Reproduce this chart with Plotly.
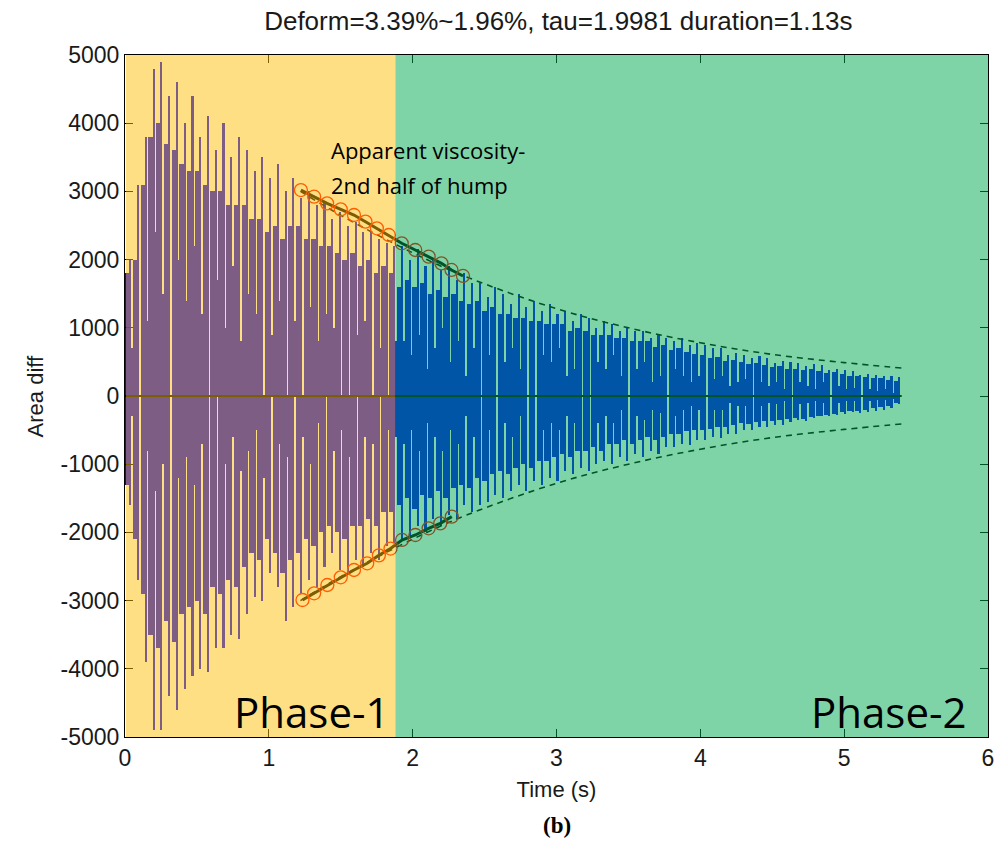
import numpy as np
import plotly.graph_objects as go

# ---- labels -------------------------------------------------------------
title_text = "Deform=3.39%~1.96%, tau=1.9981 duration=1.13s"
x_ticks = [0, 1, 2, 3, 4, 5, 6]
y_ticks = [-5000, -4000, -3000, -2000, -1000, 0, 1000, 2000, 3000, 4000, 5000]
y_tick_text = ["-5000", "-4000", "-3000", "-2000", "-1000", "0",
               "1000", "2000", "3000", "4000", "5000"]

# ---- oscillation record (amplitudes in hundreds, one entry per 0.054 s block) ----
block_dt = 0.054
unit = 100.0

# upper side: spike tips, block tops, slit depths
up_tip = [20, 31, 38, 48, 49, 44, 46, 40, 44, 38, 41, 36, 40, 35, 38, 36, 33, 35, 32, 34,
          30, 32, 29, 30, 28, 28.5, 26, 27, 25, 25.5, 24, 24, 23, 22.5, 22,
          22, 20, 21.5, 19, 20, 18.5, 19, 17, 18, 16.5, 16.5, 14.5, 16, 15, 13.5,
          15, 13, 14, 12.5, 13.5, 12, 12.5, 11, 12, 11.5, 10, 11, 10.5, 9.5, 10,
          9.5, 9.5, 8.5, 9, 8.5, 8, 8.5, 7.5, 7.7, 7.5, 7, 7, 6, 6.3, 6,
          5.5, 5.8, 5.5, 4.8, 5.2, 5, 4.9, 4.4, 4.7, 4.5, 3.8, 4, 3.8, 3.6, 3.1,
          3.2, 3.1, 2.9, 3, 2.8]
up_top = [18, 20, 31, 38, 40, 37, 36, 34, 33, 33, 31, 30, 30, 28, 28, 28, 26, 26, 24, 25,
          23, 25, 25, 23, 23, 22, 22, 21, 20, 21, 19, 20, 18, 19, 18,
          16, 17, 16, 16.5, 15, 15.5, 14.5, 15, 14, 13.5, 14, 12.5, 13, 12, 12,
          11.5, 11.5, 11, 11, 10.5, 10.5, 10.5, 9.5, 10, 9.5, 9, 9, 9, 8.5, 8.5,
          8, 8, 8, 7.2, 7.5, 6.8, 7, 6.5, 6.2, 6, 5.6, 5.7, 5.2, 5.3, 5,
          4.7, 4.8, 4.5, 4.2, 4.4, 4, 4, 3.8, 3.9, 3.6, 3.4, 3.5, 3.2, 3, 3,
          2.8, 2.7, 2.6, 2.4, 2.2]
up_cut = [7, 0, 11, 24, 15, 0, 20, 14, 22, 12, 0, 17, 10, 19, 8, 15, 12, 0, 9, 14,
          0, 11, 0, 13, 8, 12, 10, 0, 0, 9, 11, 0, 7, 0, 8,
          8, 6, 9, 4, 7, 10, 5, 8, 3, 7, 0, 6, 0, 5, 7,
          4, 0, 0, 6, 5, 7, 3, 4, 0, 0, 5, 4, 6, 3, 0,
          4, 5, 2, 3, 0, 4, 3, 2, 3, 0, 2.5, 3, 1.5, 2, 2.5,
          0, 2, 1.5, 2, 1, 0, 2, 1.5, 1, 2, 0, 1.5, 1, 1.2, 0,
          1, 0.8, 1, 0.5, 0]

# lower side (magnitudes below zero)
dn_tip = [16, 27, 39, 49, 49, 44, 46, 43, 41, 40, 40.5, 37, 37, 35, 35.6, 32, 29.5, 30, 26, 28,
          33, 31, 29, 27, 28, 25, 23, 25.5, 26, 24, 25, 23, 24, 22, 21.5,
          21, 20.5, 19, 20, 18, 19, 17.5, 18, 16, 17, 16, 15.5, 14.5, 15, 14,
          13, 14, 12.5, 13, 12, 12.5, 11, 11.5, 10.5, 11, 10, 9.5, 10, 9, 9.5,
          8.5, 9, 8, 8.5, 7.5, 7.5, 7, 7.2, 6.5, 6.5, 6, 6.2, 5.5, 5.5, 5,
          5, 4.6, 4.5, 4.2, 4.3, 3.8, 3.5, 3.6, 3.2, 3, 2.9, 2.8, 2.6, 2.4, 2.5,
          2.3, 2.2, 2, 1.8, 1.2]
dn_top = [13, 21, 29, 35, 37, 33, 36, 32, 31, 30, 32, 28, 29, 27, 28, 25, 23, 24, 21, 23,
          26, 24, 23, 21, 22, 20, 19, 20, 21, 19, 19, 18, 19, 17, 17,
          16, 15, 16.5, 14.5, 15, 14, 15, 13.5, 13, 13.5, 12, 12.5, 11.5, 11, 11.5,
          10.5, 10, 10.5, 9.5, 9.5, 9, 8.5, 9, 8, 8, 7.5, 8, 7, 7, 6.5,
          7, 6.5, 6, 6.5, 6, 5.5, 5.6, 5.2, 5, 5, 4.8, 4.5, 4.6, 4.2, 4,
          4.1, 3.8, 3.7, 3.6, 3.5, 3.4, 3.2, 3.3, 3.1, 2.9, 2.8, 2.6, 2.4, 2.2, 2.2,
          2, 1.8, 1.6, 1.4, 1]
dn_cut = [3, 0, 8, 14, 10, 0, 12, 9, 13, 7, 0, 0, 10, 6, 11, 8, 5, 12, 0, 7,
          9, 0, 6, 10, 4, 0, 8, 5, 9, 0, 6, 7, 0, 5, 6,
          7, 5, 8, 4, 6, 8, 5, 7, 3, 6, 0, 5, 0, 4, 6,
          3, 0, 0, 5, 4, 5, 3, 4, 0, 0, 4, 3, 4, 2, 0,
          3, 3.5, 2, 2.5, 0, 3, 2, 1.5, 2, 0, 2, 2, 1, 1.5, 1.5,
          0, 1.5, 1, 1.2, 0.8, 0, 1.2, 1, 0.8, 1, 0, 1, 0.8, 0.8, 0,
          0.7, 0.6, 0.6, 0.4, 0]

# ---- fitted decay envelope and the points used for the fit ----
env_t = [1.22, 1.5, 2.0, 2.37, 3.0, 3.5, 4.0, 4.5, 5.0, 5.4]
env_amp = [3000, 2650, 2100, 1750, 1280, 1000, 780, 610, 490, 410]

fit_up_t = [1.223, 1.315, 1.405, 1.50, 1.592, 1.672, 1.751, 1.834, 1.924, 2.018, 2.111, 2.20, 2.27, 2.35]
fit_up_v = [3020, 2922, 2825, 2737, 2654, 2556, 2459, 2361, 2239, 2141, 2043, 1945, 1848, 1760]
fit_dn_t = [1.234, 1.315, 1.407, 1.50, 1.592, 1.684, 1.765, 1.846, 1.926, 2.019, 2.111, 2.192, 2.272]
fit_dn_v = [-2991, -2893, -2771, -2658, -2551, -2453, -2336, -2237, -2111, -2038, -1940, -1867, -1769]

# ---- phase spans ----
phase1_span = (0.007, 1.88)
phase2_span = (1.88, 6.0)

# ---- build arrays ----
up_tip_a = np.array(up_tip) * unit
up_top_a = np.array(up_top) * unit
up_cut_a = np.array(up_cut) * unit
dn_tip_a = np.array(dn_tip) * unit
dn_top_a = np.array(dn_top) * unit
dn_cut_a = np.array(dn_cut) * unit
t_blk = np.arange(len(up_tip)) * block_dt

SIG = "rgb(0,0,255)"
body_w = 0.82 * block_dt
spike_w = 0.011

fig = go.Figure()

# solid core of each block (fills the slits below their depth)
fig.add_trace(go.Bar(x=t_blk, base=-dn_cut_a, y=up_cut_a + dn_cut_a,
                     width=block_dt, offset=0, marker=dict(color=SIG, line=dict(width=0)),
                     hoverinfo="skip", showlegend=False))
# block bodies, separated by thin slits
fig.add_trace(go.Bar(x=t_blk, base=-dn_top_a, y=up_top_a + dn_top_a,
                     width=body_w, offset=0, marker=dict(color=SIG, line=dict(width=0)),
                     hoverinfo="skip", showlegend=False))
# thin spikes reaching the tips
fig.add_trace(go.Bar(x=t_blk, base=0, y=up_tip_a,
                     width=spike_w, offset=body_w - spike_w,
                     marker=dict(color=SIG, line=dict(width=0)),
                     hoverinfo="skip", showlegend=False))
fig.add_trace(go.Bar(x=t_blk, base=-dn_tip_a, y=dn_tip_a,
                     width=spike_w, offset=body_w - spike_w,
                     marker=dict(color=SIG, line=dict(width=0)),
                     hoverinfo="skip", showlegend=False))

# zero line across the record
fig.add_trace(go.Scatter(x=[0, t_blk[-1] + block_dt], y=[0, 0], mode="lines",
                         line=dict(color="black", width=2), showlegend=False, hoverinfo="skip"))

# dashed exponential envelope
for sgn in (1, -1):
    fig.add_trace(go.Scatter(x=env_t, y=[sgn * a for a in env_amp], mode="lines",
                             line=dict(color="black", width=1.6, dash="6px,5px", shape="spline"),
                             showlegend=False, hoverinfo="skip"))

# fitted points
for xs, ys in ((fit_up_t, fit_up_v), (fit_dn_t, fit_dn_v)):
    fig.add_trace(go.Scatter(x=xs, y=ys, mode="lines+markers",
                             line=dict(color="black", width=3),
                             marker=dict(symbol="circle-open", size=13,
                                         color="rgb(255,0,0)", line=dict(width=1.3, color="rgb(255,0,0)")),
                             showlegend=False, hoverinfo="skip"))

# translucent phase shading over the data
fig.add_shape(type="rect", xref="x", yref="y", x0=phase1_span[0], x1=phase1_span[1],
              y0=-5000, y1=5000, fillcolor="rgb(255,190,5)", opacity=0.49,
              line=dict(width=0), layer="above")
fig.add_shape(type="rect", xref="x", yref="y", x0=phase2_span[0], x1=phase2_span[1],
              y0=-5000, y1=5000, fillcolor="rgb(0,170,80)", opacity=0.5,
              line=dict(width=0), layer="above")

axis_font = dict(family="Liberation Sans, Arial, sans-serif", size=23, color="#1a1a1a")
label_font = dict(family="Liberation Sans, Arial, sans-serif", size=22, color="#1a1a1a")

fig.update_layout(
    width=1006, height=845,
    margin=dict(l=125, r=14, t=55, b=108),
    paper_bgcolor="white", plot_bgcolor="white",
    barmode="overlay", bargap=0,
    showlegend=False,
    title=dict(text=title_text, x=0.555, xanchor="center", y=1 - 21 / 845, yanchor="middle",
               font=dict(family="Liberation Sans, Arial, sans-serif", size=26, color="#1a1a1a")),
    xaxis=dict(range=[0, 6], tickvals=x_ticks, ticks="inside", ticklen=8, tickcolor="black",
               showline=True, linecolor="black", linewidth=1, mirror="ticks",
               showgrid=False, zeroline=False, tickfont=axis_font,
               title=dict(text="Time (s)", font=label_font, standoff=12)),
    yaxis=dict(range=[-5000, 5000], tickvals=y_ticks, ticktext=y_tick_text,
               ticks="inside", ticklen=8, tickcolor="black",
               showline=True, linecolor="black", linewidth=1, mirror="ticks",
               showgrid=False, zeroline=False, tickfont=axis_font),
)

fig.add_annotation(text="Area diff", xref="paper", yref="paper", x=(35 - 125) / 867, y=0.5,
                   textangle=-90, showarrow=False, font=label_font, xanchor="center", yanchor="middle")
fig.add_annotation(text="<b>(b)</b>", xref="paper", yref="paper", x=0.5, y=(737 - 826) / 682,
                   showarrow=False, xanchor="center", yanchor="middle",
                   font=dict(family="Liberation Serif, Times New Roman, serif", size=23, color="black"))

note_font = dict(family="Open Sans, Lato, sans-serif", size=22, color="black")
fig.add_annotation(text="Apparent viscosity-", x=1.419, y=3607, xref="x", yref="y",
                   showarrow=False, xanchor="left", yanchor="middle", font=note_font)
fig.add_annotation(text="2nd half of hump", x=1.419, y=3094, xref="x", yref="y",
                   showarrow=False, xanchor="left", yanchor="middle", font=note_font)

phase_font = dict(family="Open Sans, Lato, sans-serif", size=42, color="black")
fig.add_annotation(text="Phase-1", x=1.30, y=-4633, xref="x", yref="y",
                   showarrow=False, xanchor="center", yanchor="middle", font=phase_font)
fig.add_annotation(text="Phase-2", x=5.315, y=-4633, xref="x", yref="y",
                   showarrow=False, xanchor="center", yanchor="middle", font=phase_font)

fig.write_html("out.html")
